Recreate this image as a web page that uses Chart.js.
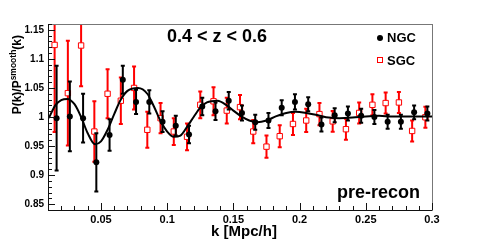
<!DOCTYPE html>
<html>
<head>
<meta charset="utf-8">
<script src="https://cdn.jsdelivr.net/npm/chart.js@4.4.1/dist/chart.umd.min.js"></script>
<style>
  html, body { margin: 0; padding: 0; background: #fff; }
  #wrap { width: 480px; height: 240px; }
</style>
</head>
<body>
<div id="wrap"><canvas id="bao"></canvas></div>
<script>
// NGC measurements
const kNGC = [0.0165, 0.0265, 0.0365, 0.0465, 0.0565, 0.0665, 0.0765, 0.0865, 0.0965, 0.1065,
    0.1165, 0.1265, 0.1365, 0.1465, 0.1565, 0.1665, 0.1765, 0.1865, 0.1965, 0.2065,
    0.2165, 0.2265, 0.2365, 0.2465, 0.2565, 0.2665, 0.2765, 0.2865, 0.2965];
const pNGC = [0.998, 1.001, 0.998, 0.922, 0.969, 1.064, 1.026, 1.026, 0.992, 0.985,
    0.970, 1.018, 1.010, 1.028, 1.007, 0.991, 0.994, 1.016, 1.026, 1.022,
    0.987, 1.003, 1.006, 1.002, 1.000, 0.992, 0.992, 1.008, 1.006];
const eNGC = [0.090, 0.060, 0.042, 0.050, 0.027, 0.024, 0.021, 0.020, 0.018, 0.017,
    0.015, 0.015, 0.015, 0.015, 0.013, 0.013, 0.013, 0.013, 0.013, 0.012,
    0.012, 0.012, 0.012, 0.012, 0.012, 0.012, 0.012, 0.012, 0.012];

// SGC measurements
const kSGC = [0.015, 0.025, 0.035, 0.045, 0.055, 0.065, 0.075, 0.085, 0.095, 0.105,
    0.115, 0.125, 0.135, 0.145, 0.155, 0.165, 0.175, 0.185, 0.195, 0.205,
    0.215, 0.225, 0.235, 0.245, 0.255, 0.265, 0.275, 0.285, 0.295];
const pSGC = [1.124, 1.041, 1.123, 0.975, 1.040, 1.028, 1.050, 0.978, 0.998, 0.975,
    0.966, 1.021, 1.027, 1.011, 1.017, 0.975, 0.949, 0.967, 0.988, 0.994,
    1.005, 0.9925, 0.979, 1.007, 1.021, 1.024, 1.025, 0.976, 0.9995];
const eSGC = [0.150, 0.090, 0.070, 0.052, 0.042, 0.040, 0.037, 0.031, 0.026, 0.023,
    0.023, 0.023, 0.024, 0.022, 0.021, 0.020, 0.019, 0.019, 0.019, 0.020,
    0.019, 0.018, 0.018, 0.018, 0.018, 0.018, 0.018, 0.018, 0.018];

// best fit model curve
const kModel = [0.0106, 0.0155, 0.020, 0.0245, 0.030, 0.035, 0.040, 0.0455, 0.050, 0.055,
    0.060, 0.065, 0.070, 0.078, 0.085, 0.090, 0.095, 0.100, 0.105, 0.110,
    0.115, 0.120, 0.125, 0.130, 0.138, 0.145, 0.150, 0.156, 0.162, 0.168,
    0.175, 0.182, 0.190, 0.197, 0.205, 0.214, 0.222, 0.230, 0.240, 0.250,
    0.260, 0.270, 0.280, 0.290, 0.300];
const pModel = [0.998, 1.020, 1.029, 1.031, 1.022, 1.000, 0.972, 0.953, 0.958, 0.978,
    1.005, 1.030, 1.045, 1.050, 1.040, 1.018, 0.993, 0.975, 0.966, 0.968,
    0.983, 1.000, 1.016, 1.025, 1.028, 1.020, 1.011, 1.001, 0.994, 0.991,
    0.994, 1.001, 1.007, 1.009, 1.007, 1.003, 0.999, 0.998, 0.999, 1.001,
    1.002, 1.001, 1.001, 1.001, 1.001];

const xTicks = [0.05, 0.1, 0.15, 0.2, 0.25, 0.3];
const yTicks = [0.85, 0.9, 0.95, 1, 1.05, 1.1, 1.15];

const FONT = '"Liberation Sans", Arial, Helvetica, sans-serif';

function pts(xs, ys) {
    return xs.map((x, i) => ({ x: x, y: ys[i] }));
}

const errs = { 1: eNGC, 2: eSGC };

// error bars, drawn just before each marker set
const errorBars = {
    id: 'errorBars',
    beforeDatasetDraw(chart, args) {
        const e = errs[args.index];
        if (!e) return;
        const ds = chart.data.datasets[args.index];
        const xs = chart.scales.x, ys = chart.scales.y, a = chart.chartArea;
        const ctx = chart.ctx;
        ctx.save();
        ctx.beginPath();
        ctx.rect(a.left, a.top, a.right - a.left, a.bottom - a.top);
        ctx.clip();
        ctx.strokeStyle = ds.borderColor;
        ctx.lineWidth = 2;
        ds.data.forEach((p, i) => {
            const px = xs.getPixelForValue(p.x);
            const y1 = ys.getPixelForValue(p.y + e[i]);
            const y2 = ys.getPixelForValue(p.y - e[i]);
            ctx.beginPath();
            ctx.moveTo(px, y1); ctx.lineTo(px, y2);
            ctx.moveTo(px - 2, y1); ctx.lineTo(px + 2, y1);
            ctx.moveTo(px - 2, y2); ctx.lineTo(px + 2, y2);
            ctx.stroke();
        });
        ctx.restore();
    }
};

// ROOT style frame, inward ticks and texts
const decor = {
    id: 'decor',
    afterDraw(chart) {
        const ctx = chart.ctx, a = chart.chartArea;
        const xs = chart.scales.x, ys = chart.scales.y;
        ctx.save();
        ctx.lineWidth = 1;
        ctx.strokeStyle = '#777';
        ctx.strokeRect(a.left + 0.5, a.top + 0.5, a.right - a.left, a.bottom - a.top);
        ctx.strokeStyle = '#111';
        ctx.beginPath();
        ctx.moveTo(a.left + 0.5, a.top); ctx.lineTo(a.left + 0.5, a.bottom + 0.5);
        ctx.lineTo(a.right, a.bottom + 0.5);
        // x ticks
        for (let i = 1; i <= 30; i++) {
            const v = i / 100;
            if (v < xs.min - 1e-9 || v > xs.max + 1e-9) continue;
            const px = Math.round(xs.getPixelForValue(v)) + 0.5;
            const len = (i % 5 === 0) ? 7 : 4;
            ctx.moveTo(px, a.bottom); ctx.lineTo(px, a.bottom - len);
        }
        // y ticks
        for (let i = 84; i <= 116; i++) {
            const v = i / 100;
            const py = Math.round(ys.getPixelForValue(v)) + 0.5;
            const len = (i % 5 === 0) ? 7 : 4;
            ctx.moveTo(a.left, py); ctx.lineTo(a.left + len, py);
        }
        ctx.stroke();

        ctx.fillStyle = '#000';
        ctx.textBaseline = 'middle';
        ctx.textAlign = 'center';
        ctx.font = 'bold 18px ' + FONT;
        ctx.fillText('0.4 < z < 0.6', 217, 37);

        ctx.textAlign = 'left';
        ctx.font = 'bold 18px ' + FONT;
        ctx.fillText('pre-recon', 337, 193);

        // legend
        ctx.font = 'bold 13px ' + FONT;
        ctx.fillText('NGC', 387, 38);
        ctx.fillText('SGC', 387, 61);
        ctx.beginPath();
        ctx.arc(380, 38, 3, 0, Math.PI * 2);
        ctx.fill();
        ctx.strokeStyle = '#f00';
        ctx.strokeRect(377.5, 57.5, 5, 5);

        // axis titles
        ctx.textAlign = 'center';
        ctx.font = 'bold 15px ' + FONT;
        ctx.fillText('k [Mpc/h]', 244, 232);

        ctx.translate(18, 0);
        ctx.rotate(-Math.PI / 2);
        const big = 'bold 12px ' + FONT, small = 'bold 8.5px ' + FONT;
        const parts = [['P(k)/P', big, 0], ['smooth', small, -4.5], ['(k)', big, 0]];
        let total = 0;
        parts.forEach(p => { ctx.font = p[1]; total += ctx.measureText(p[0]).width; });
        let x = -35 - total;
        ctx.textAlign = 'left';
        parts.forEach(p => {
            ctx.font = p[1];
            ctx.fillText(p[0], x, p[2]);
            x += ctx.measureText(p[0]).width;
        });
        ctx.restore();
    }
};

const config = {
    type: 'scatter',
    data: {
        datasets: [{
            label: 'model',
            data: pts(kModel, pModel),
            showLine: true,
            borderColor: '#000',
            borderWidth: 2,
            pointRadius: 0,
            cubicInterpolationMode: 'monotone',
            order: 0
        }, {
            label: 'NGC',
            data: pts(kNGC, pNGC),
            borderColor: '#000',
            backgroundColor: '#000',
            pointRadius: 3,
            borderWidth: 0,
            order: 1
        }, {
            label: 'SGC',
            data: pts(kSGC, pSGC),
            borderColor: '#f00',
            backgroundColor: '#fff',
            pointStyle: 'rect',
            pointRadius: 3.8,
            borderWidth: 1,
            order: 2
        }]
    },
    options: {
        responsive: true,
        maintainAspectRatio: false,
        animation: false,
        events: [],
        layout: { padding: { left: 0, right: 48, top: 24, bottom: 0 } },
        plugins: {
            legend: { display: false },
            tooltip: { enabled: false }
        },
        scales: {
            x: {
                type: 'linear',
                min: 0.01,
                max: 0.3,
                afterFit: s => { s.height = 30; },
                afterBuildTicks: s => { s.ticks = xTicks.map(v => ({ value: v })); },
                grid: { display: false, drawTicks: false },
                border: { display: false },
                ticks: {
                    padding: 3,
                    color: '#000',
                    font: { family: FONT, size: 11, weight: 'bold' },
                    maxRotation: 0,
                    autoSkip: false,
                    callback: v => String(Math.round(v * 100) / 100)
                }
            },
            y: {
                type: 'linear',
                min: 0.84,
                max: 1.16,
                afterFit: s => { s.width = 48; },
                afterBuildTicks: s => { s.ticks = yTicks.map(v => ({ value: v })); },
                grid: { display: false, drawTicks: false },
                border: { display: false },
                ticks: {
                    padding: 4,
                    color: '#000',
                    font: { family: FONT, size: 10, weight: 'bold' },
                    autoSkip: false,
                    callback: v => String(Math.round(v * 100) / 100)
                }
            }
        }
    },
    plugins: [errorBars, decor]
};

const baoChart = new Chart(document.getElementById('bao'), config);
</script>
</body>
</html>
